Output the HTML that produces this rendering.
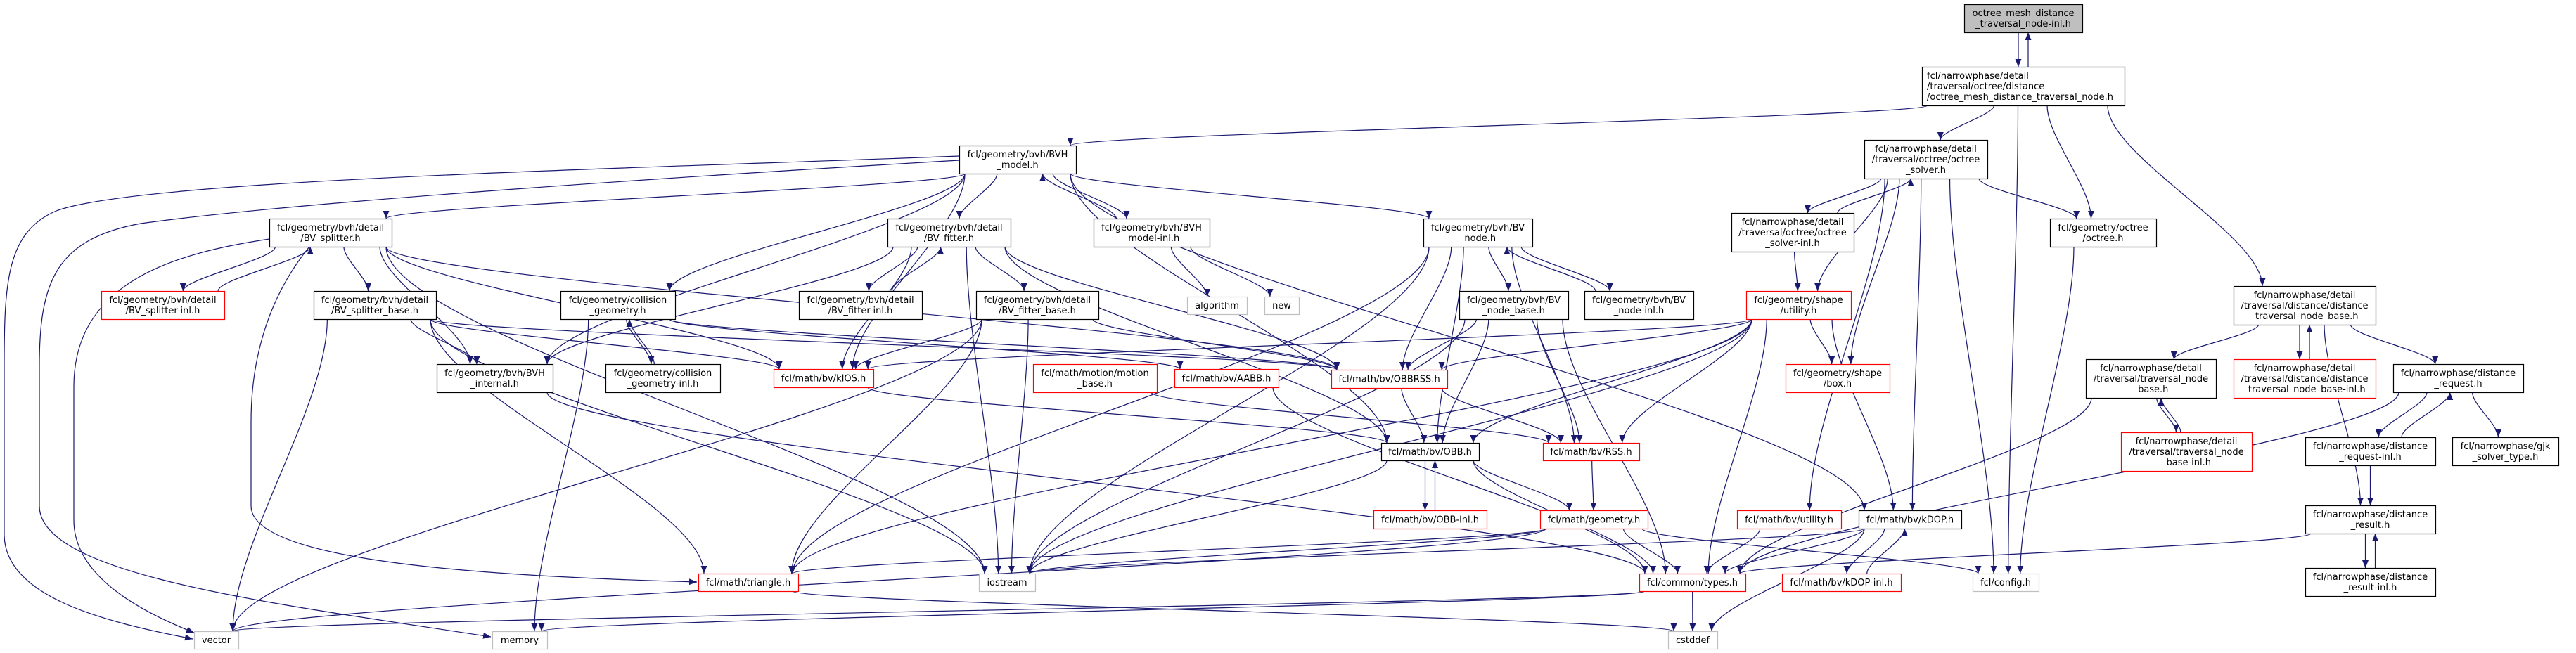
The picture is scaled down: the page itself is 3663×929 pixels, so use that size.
<!DOCTYPE html>
<html><head><meta charset="utf-8">
<style>
html,body{margin:0;padding:0;background:#fff;}
svg{display:block;}
text{font-family:"DejaVu Sans","Liberation Sans",sans-serif;font-size:13px;fill:#000;}
</style></head>
<body>
<svg id="g" width="3663" height="929" viewBox="0 0 3663 929" xmlns="http://www.w3.org/2000/svg">
<defs><marker id="a" markerWidth="11" markerHeight="9" refX="11" refY="4.5" orient="auto" markerUnits="userSpaceOnUse"><path d="M0,0 L11,4.5 L0,9 z" fill="#191970"/></marker></defs>
<g id="edges"></g><g id="nodes"></g>
</svg>
<script>
var N={
top:[2793,6,2961,46,'f',["octree_mesh_distance","_traversal_node-inl.h"]],
omd:[2733,95,3021,150,'b',["fcl/narrowphase/detail","/traversal/octree/distance","/octree_mesh_distance_traversal_node.h"],1],
bvhm:[1364,207,1530,247,'b',["fcl/geometry/bvh/BVH","_model.h"]],
bvs:[383,311,557,351,'b',["fcl/geometry/bvh/detail","/BV_splitter.h"]],
bvsi:[144,414,319,454,'r',["fcl/geometry/bvh/detail","/BV_splitter-inl.h"]],
bvsb:[446,414,620,454,'b',["fcl/geometry/bvh/detail","/BV_splitter_base.h"]],
cg:[797,414,960,454,'b',["fcl/geometry/collision","_geometry.h"]],
bvhi:[621,518,786,558,'b',["fcl/geometry/bvh/BVH","_internal.h"]],
cgi:[861,518,1024,558,'b',["fcl/geometry/collision","_geometry-inl.h"]],
vector:[276,898,339,923,'g',["vector"]],
memory:[700,898,778,923,'g',["memory"]],
bvf:[1262,311,1437,351,'b',["fcl/geometry/bvh/detail","/BV_fitter.h"]],
bvhmi:[1555,311,1720,351,'b',["fcl/geometry/bvh/BVH","_model-inl.h"]],
bvfi:[1136,414,1311,454,'b',["fcl/geometry/bvh/detail","/BV_fitter-inl.h"]],
bvfb:[1388,414,1562,454,'b',["fcl/geometry/bvh/detail","/BV_fitter_base.h"]],
alg:[1688,422,1773,447,'g',["algorithm"]],
nw:[1798,422,1847,447,'g',["new"]],
kios:[1100,525,1242,551,'r',["fcl/math/bv/kIOS.h"]],
mb:[1469,518,1645,558,'r',["fcl/math/motion/motion","_base.h"]],
aabb:[1670,525,1818,551,'r',["fcl/math/bv/AABB.h"]],
tri:[993,816,1135,841,'r',["fcl/math/triangle.h"]],
ios:[1392,816,1472,841,'g',["iostream"]],
bvn:[2024,311,2179,351,'b',["fcl/geometry/bvh/BV","_node.h"]],
bvnb:[2075,414,2230,454,'b',["fcl/geometry/bvh/BV","_node_base.h"]],
bvni:[2253,414,2408,454,'b',["fcl/geometry/bvh/BV","_node-inl.h"]],
osi:[2462,303,2636,358,'b',["fcl/narrowphase/detail","/traversal/octree/octree","_solver-inl.h"]],
su:[2483,414,2632,454,'r',["fcl/geometry/shape","/utility.h"]],
os:[2651,199,2826,254,'b',["fcl/narrowphase/detail","/traversal/octree/octree","_solver.h"]],
obbrss:[1893,526,2058,552,'r',["fcl/math/bv/OBBRSS.h"]],
box:[2539,518,2687,558,'r',["fcl/geometry/shape","/box.h"]],
obb:[1964,630,2103,655,'b',["fcl/math/bv/OBB.h"]],
rss:[2194,630,2331,655,'r',["fcl/math/bv/RSS.h"]],
obbi:[1953,726,2114,752,'r',["fcl/math/bv/OBB-inl.h"]],
geo:[2190,726,2343,752,'r',["fcl/math/geometry.h"]],
bvu:[2470,726,2618,752,'r',["fcl/math/bv/utility.h"]],
kdop:[2643,726,2789,752,'b',["fcl/math/bv/kDOP.h"]],
types:[2331,816,2482,841,'r',["fcl/common/types.h"]],
kdopi:[2534,816,2703,841,'r',["fcl/math/bv/kDOP-inl.h"]],
cst:[2372,898,2442,923,'g',["cstddef"]],
oct:[2915,311,3066,351,'b',["fcl/geometry/octree","/octree.h"]],
dtnb:[3176,407,3378,462,'b',["fcl/narrowphase/detail","/traversal/distance/distance","_traversal_node_base.h"]],
tnb:[2966,511,3151,566,'b',["fcl/narrowphase/detail","/traversal/traversal_node","_base.h"]],
dtnbi:[3176,511,3378,566,'r',["fcl/narrowphase/detail","/traversal/distance/distance","_traversal_node_base-inl.h"]],
dreq:[3403,518,3588,558,'b',["fcl/narrowphase/distance","_request.h"]],
tnbi:[3016,615,3202,670,'r',["fcl/narrowphase/detail","/traversal/traversal_node","_base-inl.h"]],
dreqi:[3278,622,3463,662,'b',["fcl/narrowphase/distance","_request-inl.h"]],
gjk:[3487,622,3638,662,'b',["fcl/narrowphase/gjk","_solver_type.h"]],
dres:[3278,719,3463,759,'b',["fcl/narrowphase/distance","_result.h"]],
dresi:[3278,808,3463,848,'b',["fcl/narrowphase/distance","_result-inl.h"]],
cfg:[2805,816,2899,841,'g',["fcl/config.h"]]
};
var E=[
['top','omd',1],['omd','bvhm'],['omd','os'],['omd','cfg'],['omd','oct'],['omd','dtnb'],
['bvhm','bvs'],['bvhm','bvhi'],['bvhm','cg'],['bvhm','bvf'],['bvhm','bvhmi',1],['bvhm','bvn'],['bvhm','obb'],['bvhm','kdop'],['bvhm','kios'],
['bvs','bvsi',1],['bvs','bvsb'],['bvs','bvhi'],['bvs','ios'],['bvs','kios'],['bvs','obbrss'],
['bvsb','vector'],['bvsb','bvhi'],['bvsb','tri'],['bvsb','ios'],['bvsb','kios'],['bvsb','obbrss'],
['cg','cgi',1],['cg','memory'],['cg','obbrss'],['cg','aabb'],
['bvhi','types'],
['bvf','bvfi',1],['bvf','bvfb'],['bvf','bvhi'],['bvf','kios'],['bvf','obbrss'],['bvf','ios'],['bvf','obb'],
['bvfb','kios'],['bvfb','tri'],['bvfb','ios'],['bvfb','obbrss'],['bvfb','vector'],
['bvhmi','alg'],['bvhmi','nw'],
['bvn','bvnb'],['bvn','bvni',1],['bvn','obbrss'],['bvn','obb'],['bvn','rss'],['bvn','tri'],['bvn','ios'],
['bvnb','obbrss'],['bvnb','obb'],['bvnb','rss'],['bvnb','ios'],['bvnb','types'],
['kios','obb'],['mb','rss'],['aabb','types'],
['obbrss','obb'],['obbrss','rss'],
['obb','obbi',1],['obb','geo'],['obb','types'],['obb','ios'],
['rss','geo'],
['geo','types'],['geo','tri'],['geo','ios'],['geo','vector'],['geo','cfg'],
['bvu','types'],
['kdop','kdopi',1],['kdop','types'],['kdop','ios'],['kdop','cst'],
['types','cst'],['types','vector'],['types','memory'],
['tri','cst'],
['os','osi',1],['os','su'],['os','oct'],['os','cfg'],['os','bvu'],['os','box'],['os','kdop'],
['osi','su'],
['su','box'],['su','obbrss'],['su','kios'],['su','rss'],['su','obb'],['su','kdop'],['su','types'],['su','tri'],['su','ios'],
['oct','cfg'],
['dtnb','tnb'],['dtnb','dtnbi',1],['dtnb','dreq'],['dtnb','dres'],
['tnb','tnbi',1],['tnb','types'],
['dreq','dreqi',1],['dreq','gjk'],['dreq','types'],
['dreqi','dres'],
['dres','dresi',1],['dres','types']
];
var CUSTOM=[
"M1364,222 C900,240 200,255 80,300 C10,330 6,400 6,520 L6,760 C6,850 150,885 274,909",
"M1364,228 C900,255 400,290 200,318 C80,340 56,400 56,520 L56,720 C56,820 400,860 698,906",
"M383,340 C250,360 105,400 105,550 L105,740 C105,820 200,870 276,900",
"M440,351 C400,400 357,480 357,600 L357,720 C357,800 700,820 991,828"
];
var ns="http://www.w3.org/2000/svg";
function el(t,a,p){var e=document.createElementNS(ns,t);for(var k in a)e.setAttribute(k,a[k]);p.appendChild(e);return e;}
var eg=document.getElementById('edges'),ng=document.getElementById('nodes');
function cl(v,a,b){return Math.max(a,Math.min(b,v));}
function path(d){el('path',{d:d,fill:'none',stroke:'#191970','stroke-width':1.2,'marker-end':'url(#a)'},eg);}
function edge(s,t,off){
 var S=N[s],T=N[t];
 var scx=(S[0]+S[2])/2,tcx=(T[0]+T[2])/2;
 var sx,sy,ex,ey;
 if(T[1]>=S[3]-5){
  sx=cl(scx+(tcx-scx)*0.3,S[0]+8,S[2]-8)+off; sy=S[3];
  ex=cl(tcx+(scx-tcx)*0.15,T[0]+8,T[2]-8)+off; ey=T[1];
 } else if(T[3]<=S[1]+5){
  sx=cl(scx+(tcx-scx)*0.3,S[0]+8,S[2]-8)+off; sy=S[1];
  ex=cl(tcx+(scx-tcx)*0.15,T[0]+8,T[2]-8)+off; ey=T[3];
 } else {
  var scy=(S[1]+S[3])/2,tcy=(T[1]+T[3])/2;
  if(tcx>scx){sx=S[2];ex=T[0];}else{sx=S[0];ex=T[2];}
  sy=scy;ey=tcy;
  path("M"+sx+","+sy+" C"+(sx+ex)/2+","+sy+" "+(sx+ex)/2+","+ey+" "+ex+","+ey);return;
 }
 var dy=ey-sy;
 path("M"+sx+","+sy+" C"+sx+","+(sy+dy*0.28)+" "+ex+","+(ey-dy*0.28)+" "+ex+","+ey);
}
E.forEach(function(e){
 if(e[2]){edge(e[0],e[1],-7);edge(e[1],e[0],7);} else edge(e[0],e[1],0);
});
CUSTOM.forEach(path);
for(var k in N){
 var n=N[k];
 var stroke=n[4]=='r'?'#ff0000':(n[4]=='g'?'#bfbfbf':'#000');
 var fill=n[4]=='f'?'#bfbfbf':'#fff';
 el('rect',{x:n[0]+0.5,y:n[1]+0.5,width:n[2]-n[0],height:n[3]-n[1],fill:fill,stroke:stroke,'stroke-width':1.2},ng);
 var L=n[5],lh=15,cy=(n[1]+n[3])/2,y0=cy-(L.length-1)*lh/2+4.5;
 for(var i=0;i<L.length;i++){
  var left=n[6];
  var t=el('text',left?{x:n[0]+7,y:y0+i*lh}:{x:(n[0]+n[2])/2,y:y0+i*lh,'text-anchor':'middle'},ng);
  t.textContent=L[i];
 }
}
</script>
</body></html>
